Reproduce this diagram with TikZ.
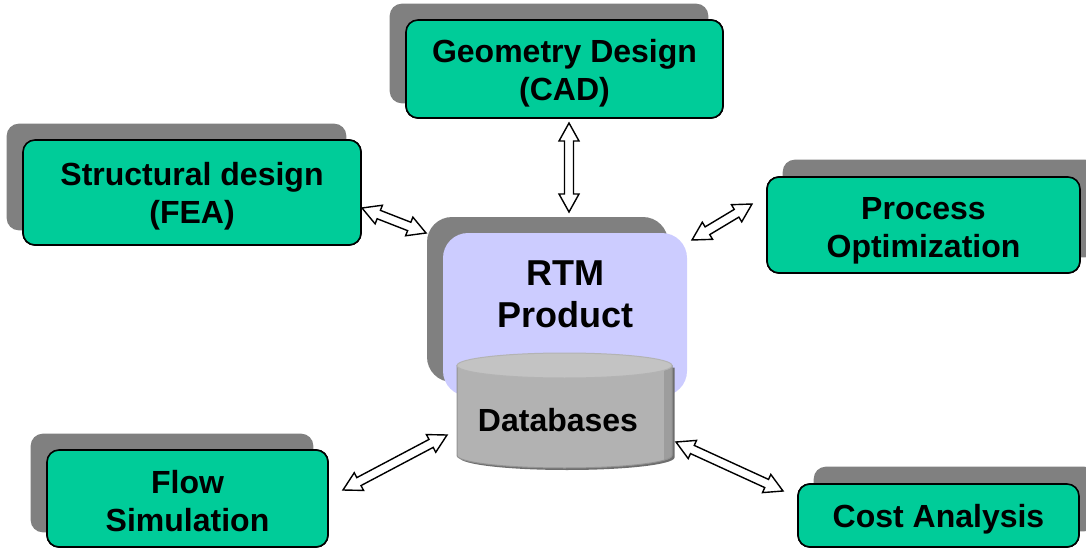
\documentclass[tikz,border=0pt]{standalone}
\usepackage{fontspec}
\setmainfont{Liberation Sans}
\usetikzlibrary{calc}

\definecolor{boxgreen}{HTML}{00CC99}
\definecolor{backgray}{HTML}{808080}
\definecolor{prodblue}{HTML}{CCCCFF}
\definecolor{cylbody}{HTML}{B2B2B2}
\definecolor{cyltop}{HTML}{C3C3C3}
\definecolor{cylline}{HTML}{929292}
\definecolor{cylshade}{HTML}{6E6E6E}

% sizes of the hollow two-way arrows
\newcommand\aHead{18pt}
\newcommand\aHalf{10pt}
\newcommand\aShaft{4.5pt}

% hollow block arrow with a head at both ends, between two named points
\newcommand\twoway[2]{%
  \draw[hollow] (#1)
    -- ($(#1)!\aHead!(#2)!\aHalf!90:(#2)$)
    -- ($(#1)!\aHead!(#2)!\aShaft!90:(#2)$)
    -- ($(#2)!\aHead!(#1)!\aShaft!-90:(#1)$)
    -- ($(#2)!\aHead!(#1)!\aHalf!-90:(#1)$)
    -- (#2)
    -- ($(#2)!\aHead!(#1)!\aHalf!90:(#1)$)
    -- ($(#2)!\aHead!(#1)!\aShaft!90:(#1)$)
    -- ($(#1)!\aHead!(#2)!\aShaft!-90:(#2)$)
    -- ($(#1)!\aHead!(#2)!\aHalf!-90:(#2)$)
    -- cycle;}

% grey plate lying behind a task box, shifted by (#2,#3)
\newcommand\backplate[3]{%
  \fill[plate] ($(#1.south west)+(#2,#3)$) rectangle ($(#1.north east)+(#2,#3)$);}

% outline of the database cylinder body, left edge at x=#1, top axis at y=#2
\newcommand\cylbody[2]{(#1,#2) -- (#1,#2+90)
      arc[start angle=180, end angle=360, x radius=107.5pt, y radius=12.5pt]
      -- (#1+215,#2) -- cycle}

\tikzset{
  task/.style={draw=black, line width=1.6pt, fill=boxgreen, rounded corners=12pt,
    align=center, inner sep=0pt, font=\fontsize{32}{38}\selectfont\bfseries},
  tasktext/.style={align=center, inner sep=0pt, font=\fontsize{32}{38}\selectfont\bfseries},
  plate/.style={fill=backgray, rounded corners=12pt},
  hollow/.style={draw=black, fill=white, line width=1.4pt, line join=miter},
}

\begin{document}
\begin{tikzpicture}[x=1pt, y=-1pt]
  \useasboundingbox (0,0) rectangle (1086,548);
  \clip (0,0) rectangle (1086,548);

  % task boxes
  \begin{scope}[every node/.append style={task}]
    \path node[minimum width=317pt, minimum height=98pt]  (geo)  at (564.5,69)   {};
    \path node[minimum width=338pt, minimum height=105pt] (fea)  at (192,192.5)  {};
    \path node[minimum width=313pt, minimum height=96pt]  (proc) at (923.5,225)  {};
    \path node[minimum width=281pt, minimum height=97pt]  (flow) at (187.5,498.5){};
    \path node[minimum width=281pt, minimum height=63pt]  (cost) at (938.5,515.5){};
  \end{scope}

  \backplate{geo}{-15.5}{-15.5}
  \backplate{fea}{-15.5}{-15.5}
  \backplate{flow}{-15.5}{-15.5}
  \backplate{proc}{16.5}{-16.5}
  \backplate{cost}{16.5}{-16.5}

  \begin{scope}[every node/.append style={task}]
    \node[minimum width=317pt, minimum height=98pt]  at (geo)  {};
    \node[minimum width=338pt, minimum height=105pt] at (fea)  {};
    \node[minimum width=313pt, minimum height=96pt]  at (proc) {};
    \node[minimum width=281pt, minimum height=97pt]  at (flow) {};
    \node[minimum width=281pt, minimum height=63pt]  at (cost) {};
  \end{scope}

  \node[tasktext] (geo-label)  at ($(geo)+(0,4)$)  {Geometry Design\\(CAD)};
  \node[tasktext] (fea-label)  at ($(fea)+(0,4)$)  {Structural design\\(FEA)};
  \node[tasktext] (proc-label) at ($(proc)+(0,6)$) {Process\\Optimization};
  \node[tasktext] (flow-label) at ($(flow)+(0,3)$) {Flow\\Simulation};
  \node[tasktext] (cost-label) at ($(cost)+(0,4)$) {Cost Analysis};

  % central product block
  \fill[backgray, rounded corners=25pt] (427,217) rectangle (668,382);
  \node[fill=prodblue, rounded corners=25pt, inner sep=0pt,
        minimum width=244pt, minimum height=163pt] (prod) at (565,314.5) {};
  \node[font=\fontsize{36}{42}\selectfont\bfseries, align=center] (prodlabel)
        at (565,294) {RTM\\Product};

  % database cylinder
  \fill[cylshade] \cylbody{459.5}{367.5};
  \fill[cylbody] \cylbody{457}{365.5};
  \begin{scope}
    \clip \cylbody{457}{365.5};
    \fill[cylbody!88!black] (664,360) rectangle (673,475);
  \end{scope}
  \draw[cylline, line width=1pt] \cylbody{457}{365.5};
  \filldraw[fill=cyltop, draw=cylline!70!white, line width=1pt]
      (564.5,365.5) ellipse[x radius=107.5pt, y radius=12.5pt];
  \node[font=\fontsize{32}{38}\selectfont\bfseries] (db) at (558,420) {Databases};

  % connector end points
  \coordinate (geo-tip)  at (569,123);
  \coordinate (prod-n)   at (569,212);
  \coordinate (fea-tip)  at (362,208);
  \coordinate (prod-w)   at (426,233);
  \coordinate (proc-tip) at (752,204);
  \coordinate (prod-e)   at (692,240);
  \coordinate (flow-tip) at (343,490);
  \coordinate (db-w)     at (447,435);
  \coordinate (cost-tip) at (783,491);
  \coordinate (db-e)     at (676,442);

  \twoway{geo-tip}{prod-n}
  \twoway{fea-tip}{prod-w}
  \twoway{proc-tip}{prod-e}
  \twoway{flow-tip}{db-w}
  \twoway{cost-tip}{db-e}
\end{tikzpicture}
\end{document}
